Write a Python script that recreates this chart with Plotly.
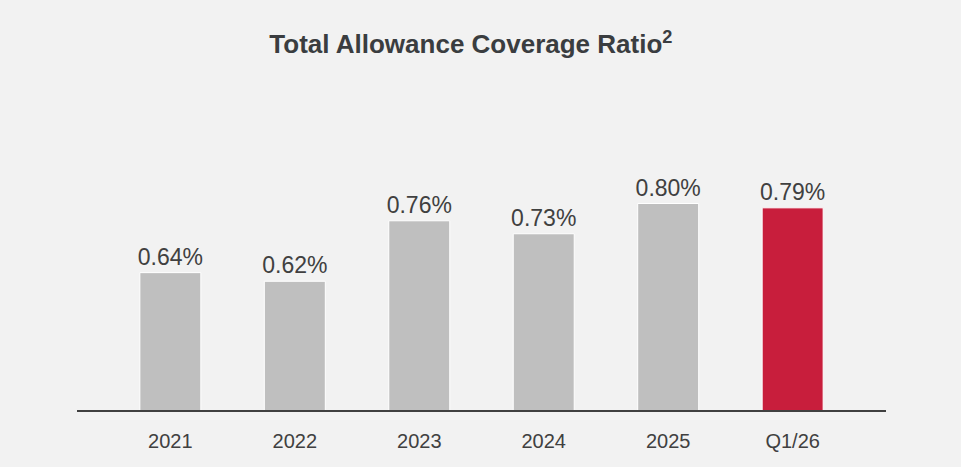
import plotly.graph_objects as go

categories = ["2021", "2022", "2023", "2024", "2025", "Q1/26"]
values = [0.64, 0.62, 0.76, 0.73, 0.80, 0.79]
labels = ["0.64%", "0.62%", "0.76%", "0.73%", "0.80%", "0.79%"]
bar_colors = ["#bfbfbf", "#bfbfbf", "#bfbfbf", "#bfbfbf", "#bfbfbf", "#c81e3c"]

fig = go.Figure(go.Bar(
    x=categories,
    y=values,
    text=labels,
    textposition="outside",
    constraintext="none",
    cliponaxis=False,
    textfont=dict(family="Liberation Sans, Arial, sans-serif", size=23, color="#404040"),
    marker=dict(color=bar_colors, line=dict(color="#ffffff", width=1)),
    width=0.49,
))

fig.update_layout(
    width=961, height=467,
    paper_bgcolor="#f2f2f2", plot_bgcolor="#f2f2f2",
    margin=dict(l=77, r=75, t=100, b=57),
    title=dict(
        text="<b>Total Allowance Coverage Ratio<sup>2</sup></b>",
        x=0.49, xanchor="center", y=0.905, yanchor="middle",
        font=dict(family="Liberation Sans, Arial, sans-serif", size=26, color="#3a3d40"),
    ),
    showlegend=False,
    xaxis=dict(
        range=[-0.75, 5.75],
        showline=True, linecolor="#404040", linewidth=2,
        ticks="", showgrid=False, zeroline=False,
        tickfont=dict(family="Liberation Sans, Arial, sans-serif", size=20, color="#404040"),
        ticklabelstandoff=12,
    ),
    yaxis=dict(
        range=[0.322, 1.0396],
        visible=False, showgrid=False, zeroline=False,
    ),
)

fig.write_html("out.html")
